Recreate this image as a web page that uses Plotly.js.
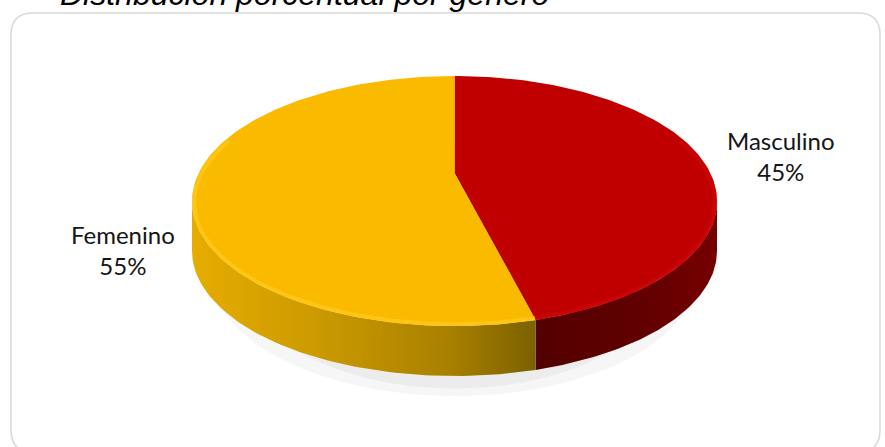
<!DOCTYPE html>
<html>
<head>
<meta charset="utf-8">
<script src="https://cdn.plot.ly/plotly-3.0.1.min.js"></script>
<style>html,body{margin:0;padding:0;background:#fff;}#chart{width:885px;height:447px;}</style>
</head>
<body>
<div id="chart"></div>
<script>
// ---- data ----
const categories = ['Masculino', 'Femenino'];
const values = [45, 55];
const topColors = ['#C00000', '#FABA00'];
const rimColors = ['#CC0505', '#FFCA1C'];
const sideScales = [
  [[0, '#520000'], [0.6, '#620000'], [1, '#760000']],
  [[0, '#E6AC00'], [0.35, '#CD9B00'], [0.75, '#A88000'], [1, '#7C6100']]
];
const chartTitle = 'Distribución porcentual por género';

// ---- layout geometry (pixels) ----
const W = 885, H = 447;
const CX = 454.5, CY = 201, RX = 262.5, RY = 125;
const DEPTH = 50 / RY;            // side thickness in unit radii
const APEX = (CY - 173) / RY;     // perspective centre of top face

const total = values.reduce((a, b) => a + b, 0);
const deg = Math.PI / 180;

function ptsArc(t0, t1, dv, n) {
  const xs = [], ys = [];
  for (let i = 0; i <= n; i++) {
    const t = t0 + (t1 - t0) * i / n;
    xs.push(Math.sin(t)); ys.push(Math.cos(t) + dv);
  }
  return {xs, ys};
}

const traces = [];

// soft shadow under the pie
[[0.93, 1.0, 0.035, 0.16], [0.82, 0.95, 0.04, 0.15]].forEach(([sx, sy, op, off]) => {
  const a = ptsArc(0, 2 * Math.PI, 0, 120);
  traces.push({
    type: 'scatter', mode: 'none', fill: 'toself',
    x: a.xs.map(v => v * sx), y: a.ys.map(v => v * sy - DEPTH - off),
    fillcolor: 'rgba(0,0,0,' + op + ')', hoverinfo: 'skip', showlegend: false
  });
});

// slice angles (clockwise from 12 o'clock)
let acc = 0;
const slices = values.map((v, i) => {
  const t0 = acc / total * 2 * Math.PI;
  acc += v;
  const t1 = acc / total * 2 * Math.PI;
  return {t0, t1, i};
});

// sides (front half only: 90..270 deg)
slices.forEach(s => {
  const a0 = Math.max(s.t0, 90 * deg), a1 = Math.min(s.t1, 270 * deg);
  if (a1 <= a0) return;
  const top = ptsArc(a0, a1, 0, 80);
  const bot = ptsArc(a1, a0, -DEPTH, 80);
  traces.push({
    type: 'scatter', mode: 'lines', fill: 'toself',
    x: top.xs.concat(bot.xs), y: top.ys.concat(bot.ys),
    line: {width: 0},
    fillgradient: {type: 'horizontal', colorscale: sideScales[s.i]},
    hoverinfo: 'skip', showlegend: false
  });
});

// top faces
slices.forEach(s => {
  const arc = ptsArc(s.t0, s.t1, 0, 160);
  traces.push({
    type: 'scatter', mode: 'lines', fill: 'toself',
    x: [0].concat(arc.xs, [0]), y: [APEX].concat(arc.ys, [APEX]),
    line: {width: 0}, fillcolor: topColors[s.i],
    hoverinfo: 'skip', showlegend: false
  });
});

// bevel highlight on rim
slices.forEach(s => {
  const arc = ptsArc(Math.max(s.t0, 60 * deg), Math.min(s.t1, 300 * deg), 0, 100);
  traces.push({
    type: 'scatter', mode: 'lines',
    x: arc.xs.map(v => v * 0.992), y: arc.ys.map(v => v * 0.975 - 0.01),
    line: {width: 4, color: rimColors[s.i]}, opacity: 0.7,
    hoverinfo: 'skip', showlegend: false
  });
});

// labels
const labelPos = [[781, 156], [123, 250]];
const annotations = categories.map((c, i) => ({
  xref: 'paper', yref: 'paper',
  x: labelPos[i][0] / W, y: 1 - labelPos[i][1] / H,
  xanchor: 'center', yanchor: 'middle', align: 'center',
  text: c + '<br>' + values[i] + '%', showarrow: false,
  font: {family: 'Lato, "Open Sans", sans-serif', size: 24, color: '#151515'}
}));
annotations.push({
  xref: 'paper', yref: 'paper', x: 58 / W, y: 1 + 6 / H,
  xanchor: 'left', yanchor: 'middle', showarrow: false,
  text: '<i>' + chartTitle + '</i>',
  font: {family: '"Liberation Sans", Arial, sans-serif', size: 32, color: '#000'}
});

// rounded frame
const L = 11, T = 13, R = 880, B = 452, r = 22;
const px = x => x / W, py = y => 1 - y / H;
const framePath = `M ${px(L + r)},${py(T)} L ${px(R - r)},${py(T)} Q ${px(R)},${py(T)} ${px(R)},${py(T + r)} ` +
  `L ${px(R)},${py(B - r)} Q ${px(R)},${py(B)} ${px(R - r)},${py(B)} L ${px(L + r)},${py(B)} ` +
  `Q ${px(L)},${py(B)} ${px(L)},${py(B - r)} L ${px(L)},${py(T + r)} Q ${px(L)},${py(T)} ${px(L + r)},${py(T)} Z`;

const layout = {
  width: W, height: H, autosize: false,
  margin: {l: 0, r: 0, t: 0, b: 0, pad: 0},
  paper_bgcolor: '#fff', plot_bgcolor: 'rgba(0,0,0,0)',
  showlegend: false,
  xaxis: {range: [-CX / RX, (W - CX) / RX], visible: false, fixedrange: true},
  yaxis: {range: [(CY - H) / RY, CY / RY], visible: false, fixedrange: true},
  shapes: [{type: 'path', xref: 'paper', yref: 'paper', path: framePath,
            line: {color: '#D9D9D9', width: 1.5}, layer: 'below'}],
  annotations: annotations
};

Plotly.newPlot('chart', traces, layout, {displayModeBar: false, staticPlot: true});
</script>
</body>
</html>
